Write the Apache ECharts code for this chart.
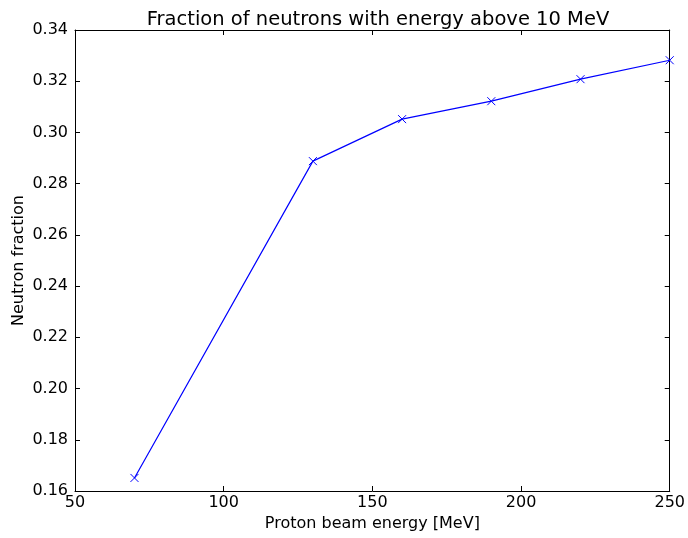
<!DOCTYPE html>
<html><head><meta charset="utf-8">
<script src="https://cdn.jsdelivr.net/npm/echarts@6/dist/echarts.min.js"></script>
<style>html,body{margin:0;padding:0;background:#fff}#c{width:688px;height:538px}</style>
</head><body><div id="c"></div>
<script>
const energies = [70, 130, 160, 190, 220, 250];
const fractions = [0.1651, 0.2888, 0.3052, 0.3122, 0.3208, 0.3282];
const xTicks = [50, 100, 150, 200, 250];
const yTicks = [0.16, 0.18, 0.20, 0.22, 0.24, 0.26, 0.28, 0.30, 0.32, 0.34];

const font = '"DejaVu Sans"';
const chart = echarts.init(document.getElementById('c'), null, {renderer: 'canvas'});
const axisLine = {show: true, lineStyle: {color: '#000', width: 1}};
const tick = {show: true, inside: true, length: 5, lineStyle: {color: '#000', width: 1}};
chart.setOption({
  animation: false,
  title: {text: 'Fraction of neutrons with energy above 10 MeV', left: 373, top: 5, textAlign: 'center',
    textStyle: {fontFamily: font, fontSize: 19.5, fontWeight: 'normal', color: '#000'}},
  grid: {left: 75, right: 16, top: 30, bottom: 47, containLabel: false},
  xAxis: [{
    type: 'value', min: 50, max: 250, interval: 50, position: 'bottom',
    name: 'Proton beam energy [MeV]', nameLocation: 'middle', nameGap: 25,
    nameTextStyle: {fontFamily: font, fontSize: 16, color: '#000'},
    axisLine, axisTick: tick, splitLine: {show: false},
    axisLabel: {fontFamily: font, fontSize: 16, color: '#000', margin: 4,
      formatter: v => xTicks.includes(v) ? String(v) : ''}
  }, {
    type: 'value', min: 50, max: 250, interval: 50, position: 'top',
    axisLine, axisTick: tick, axisLabel: {show: false}, splitLine: {show: false}
  }],
  yAxis: [{
    type: 'value', min: 0.16, max: 0.34, interval: 0.02, position: 'left',
    name: 'Neutron fraction', nameLocation: 'middle', nameGap: 48, nameMoveOverlap: false,
    nameTextStyle: {fontFamily: font, fontSize: 16, color: '#000'},
    axisLine, axisTick: tick, splitLine: {show: false},
    axisLabel: {fontFamily: font, fontSize: 16, color: '#000', margin: 7,
      formatter: v => v.toFixed(2)}
  }, {
    type: 'value', min: 0.16, max: 0.34, interval: 0.02, position: 'right',
    axisLine, axisTick: tick, axisLabel: {show: false}, splitLine: {show: false}
  }],
  series: [{
    type: 'line', xAxisIndex: 0, yAxisIndex: 0,
    data: energies.map((e, i) => [e, fractions[i]]),
    symbol: 'path://M0,0L10,10M10,0L0,10', symbolSize: 8, showAllSymbol: true,
    itemStyle: {color: 'none', borderColor: '#0000ff', borderWidth: 1},
    lineStyle: {color: '#0000ff', width: 1.2},
    emphasis: {disabled: true}
  }]
});
</script></body></html>
